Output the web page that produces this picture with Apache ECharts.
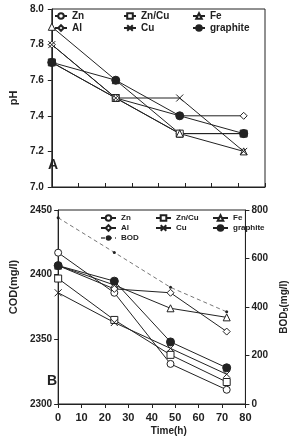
<!DOCTYPE html>
<html>
<head>
<meta charset="utf-8">
<script src="https://cdn.jsdelivr.net/npm/echarts@6/dist/echarts.min.js"></script>
<style>
  html, body { margin: 0; padding: 0; background: #fff; }
  #chart { width: 298px; height: 441px; }
</style>
</head>
<body>
<div id="chart"></div>
<script>
const hours = [0, 24, 48, 72];

// panel A: pH
const phZn = [7.7, 7.5, 7.3, 7.3];
const phZnCu = [7.7, 7.5, 7.3, 7.3];
const phFe = [7.9, 7.6, 7.3, 7.2];
const phAl = [7.8, 7.5, 7.4, 7.4];
const phCu = [7.8, 7.5, 7.5, 7.2];
const phGraphite = [7.7, 7.6, 7.4, 7.3];

// panel B: COD (left axis) and BOD5 (right axis)
const codZn = [2417, 2386, 2331, 2311];
const codZnCu = [2397, 2365, 2338, 2317];
const codFe = [2407, 2392, 2374, 2367];
const codAl = [2407, 2389, 2386, 2356];
const codCu = [2386, 2363, 2343, 2323];
const codGraphite = [2407, 2395, 2348, 2328];
const bod = [768, 625, 481, 380];

const FONT = 'Liberation Sans';
const INK = '#222';
const X_MARK = 'path://M0,0L10,10M10,0L0,10';

const styles = {
  'Zn':       { symbol: 'circle',   fill: '#fff' },
  'Zn/Cu':    { symbol: 'rect',     fill: '#fff' },
  'Fe':       { symbol: 'triangle', fill: '#fff' },
  'Al':       { symbol: 'diamond',  fill: '#fff' },
  'Cu':       { symbol: X_MARK,     fill: '#fff' },
  'graphite': { symbol: 'circle',   fill: INK }
};

const pair = arr => hours.map((h, i) => [h, arr[i]]);

function metalSeries(name, values, xi, yi, size) {
  const s = styles[name];
  return {
    name, type: 'line', xAxisIndex: xi, yAxisIndex: yi,
    data: pair(values),
    symbol: s.symbol,
    symbolSize: name === 'graphite' ? size + 1 : size,
    itemStyle: { color: s.fill, borderColor: INK, borderWidth: 1 },
    lineStyle: { color: INK, width: 1 },
    emphasis: { disabled: true },
    animation: false
  };
}

function leg(name, left, top, w, fs) {
  return {
    data: [name], left, top, padding: 0,
    itemWidth: w, itemHeight: 7, selectedMode: false,
    textStyle: { fontFamily: FONT, fontSize: fs, fontWeight: 'bold', color: INK }
  };
}

const axisLine = { show: true, lineStyle: { color: INK, width: 1 } };
const labelStyle = { fontFamily: FONT, fontSize: 10, fontWeight: 'bold', color: INK };

const chart = echarts.init(document.getElementById('chart'), null, { renderer: 'canvas' });

chart.setOption({
  animation: false,
  backgroundColor: '#fff',
  grid: [
    { left: 41, top: 9, width: 224, height: 178, show: true, borderColor: INK, borderWidth: 1, backgroundColor: 'transparent' },
    { left: 41, top: 210, width: 224, height: 194, show: true, borderColor: INK, borderWidth: 1, backgroundColor: 'transparent' }
  ],
  xAxis: [
    {
      gridIndex: 0, type: 'value', min: 0, max: 80, interval: 10,
      axisLine, axisTick: { show: true, inside: true, length: 4, lineStyle: { color: INK } },
      axisLabel: { show: false }, splitLine: { show: false }
    },
    {
      gridIndex: 1, type: 'value', min: 0, max: 80, interval: 10,
      axisLine, axisTick: { show: true, length: 4, lineStyle: { color: INK } },
      axisLabel: { ...labelStyle, fontSize: 11, margin: 8 }, splitLine: { show: false },
      name: 'Time(h)', nameLocation: 'middle', nameGap: 22,
      nameTextStyle: { ...labelStyle, padding: [0, 0, 0, 34] }
    }
  ],
  yAxis: [
    {
      gridIndex: 0, type: 'value', min: 7.0, max: 8.0, interval: 0.2,
      axisLine, axisTick: { show: true, length: 4, lineStyle: { color: INK } },
      axisLabel: { ...labelStyle, margin: 8, formatter: v => v.toFixed(1) },
      splitLine: { show: false },
      name: 'pH', nameLocation: 'middle', nameGap: 25,
      nameTextStyle: { ...labelStyle, fontSize: 11 }
    },
    {
      gridIndex: 1, type: 'value', min: 2300, max: 2450, interval: 50,
      axisLine, axisTick: { show: true, length: 4, lineStyle: { color: INK } },
      axisLabel: { ...labelStyle, margin: 6, formatter: v => String(v) },
      splitLine: { show: false },
      name: 'COD(mg/l)', nameLocation: 'middle', nameGap: 27,
      nameTextStyle: { ...labelStyle, fontSize: 11, padding: [0, 0, 0, 40] }
    },
    {
      gridIndex: 1, type: 'value', position: 'right', min: 0, max: 800, interval: 200,
      axisLine, axisTick: { show: true, length: 4, lineStyle: { color: INK } },
      axisLabel: { ...labelStyle, margin: 6, formatter: v => String(v) },
      splitLine: { show: false },
      name: 'BOD{s|5}(mg/l)', nameLocation: 'middle', nameGap: 24,
      nameTextStyle: {
        ...labelStyle, fontSize: 10,
        rich: { s: { fontFamily: FONT, fontSize: 7, fontWeight: 'bold', color: INK, padding: [5, 0, 0, 0] } }
      }
    }
  ],
  legend: [
    leg('Zn', 54, 11, 12, 10), leg('Zn/Cu', 123, 11, 12, 10), leg('Fe', 192, 11, 12, 10),
    leg('Al', 54, 23, 12, 10), leg('Cu', 123, 23, 12, 10), leg('graphite', 192, 23, 12, 10),
    leg('Zn', 100, 214, 15, 8), leg('Zn/Cu', 155, 214, 15, 8), leg('Fe', 212, 214, 15, 8),
    leg('Al', 100, 224, 15, 8), leg('Cu', 155, 224, 15, 8), leg('graphite', 212, 224, 15, 8),
    leg('BOD', 100, 234, 15, 8)
  ],
  graphic: [
    { type: 'text', left: 48, top: 158, style: { text: 'A', font: 'bold 14px "Liberation Sans"', fill: INK } },
    { type: 'text', left: 47, top: 374, style: { text: 'B', font: 'bold 14px "Liberation Sans"', fill: INK } }
  ],
  series: [
    metalSeries('Zn', phZn, 0, 0, 7),
    metalSeries('Zn/Cu', phZnCu, 0, 0, 7),
    metalSeries('Fe', phFe, 0, 0, 7),
    metalSeries('Al', phAl, 0, 0, 7),
    metalSeries('Cu', phCu, 0, 0, 7),
    metalSeries('graphite', phGraphite, 0, 0, 7),
    metalSeries('Zn', codZn, 1, 1, 7),
    metalSeries('Zn/Cu', codZnCu, 1, 1, 7),
    metalSeries('Fe', codFe, 1, 1, 7),
    metalSeries('Al', codAl, 1, 1, 7),
    metalSeries('Cu', codCu, 1, 1, 7),
    metalSeries('graphite', codGraphite, 1, 1, 7),
    {
      name: 'BOD', type: 'line', xAxisIndex: 1, yAxisIndex: 2,
      data: pair(bod),
      symbol: 'circle', symbolSize: 3,
      itemStyle: { color: INK },
      lineStyle: { color: '#777', width: 1, type: [4, 3] },
      emphasis: { disabled: true }
    }
  ]
});
</script>
</body>
</html>
